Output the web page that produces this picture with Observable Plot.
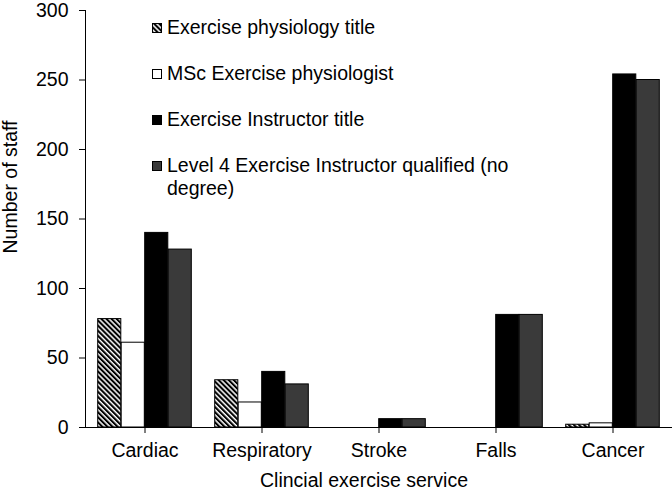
<!DOCTYPE html>
<html>
<head>
<meta charset="utf-8">
<script src="https://cdn.jsdelivr.net/npm/d3@7"></script>
<script src="https://cdn.jsdelivr.net/npm/@observablehq/plot@0.6"></script>
<style>
  html, body { margin: 0; padding: 0; background: #fff; }
  #wrap { position: relative; width: 672px; height: 489px; font-family: "Liberation Sans", Arial, sans-serif; }
  .lg-text { position: absolute; left: 167px; width: 370px; font-size: 19.5px; line-height: 23px; color: #000; }
  .lg-sq { position: absolute; left: 152px; width: 10px; height: 10px; }
</style>
</head>
<body>
<div id="wrap"></div>
<script>
// ---- data ----
const categories = ["Cardiac", "Respiratory", "Stroke", "Falls", "Cancer"];
const seriesNames = [
  "Exercise physiology title",
  "MSc Exercise physiologist",
  "Exercise Instructor title",
  "Level 4 Exercise Instructor qualified (no degree)"
];
const physiologyTitle = [78, 34, 0, 0, 2];
const mscPhysiologist = [61, 18, 0, 0, 3];
const instructorTitle = [140, 40, 6, 81, 254];
const level4Instructor = [128, 31, 6, 81, 250];
const yTicks = [0, 50, 100, 150, 200, 250, 300];
const xTitle = "Clincial exercise service";
const yTitle = "Number of staff";

const seriesValues = [physiologyTitle, mscPhysiologist, instructorTitle, level4Instructor];
const fills = ["url(#hatch)", "#ffffff", "#000000", "#3a3a3a"];

const data = categories.flatMap((c, j) =>
  seriesValues.map((vals, i) => ({category: c, series: i, value: vals[j]}))
);

// ---- layout ----
const W = 672, H = 489;
const mL = 85, mR = 0, mT = 10, mB = 62;
const bandW = (W - mL - mR) / categories.length;
const barW = 23.5;
const off = (bandW - 4 * barW) / 2;

const defs = () => {
  const ns = "http://www.w3.org/2000/svg";
  const d = document.createElementNS(ns, "defs");
  d.innerHTML = `<pattern id="hatch" patternUnits="userSpaceOnUse" width="3.6" height="3.6" patternTransform="rotate(-45)">
      <rect width="3.6" height="3.6" fill="#fff"/>
      <rect width="2.1" height="3.6" fill="#000"/>
    </pattern>`;
  return d;
};

const barMarks = seriesValues.map((_, i) =>
  Plot.barY(data.filter(d => d.series === i && d.value > 0), {
    x: "category",
    y: "value",
    fill: fills[i],
    stroke: "#000",
    strokeWidth: 1,
    insetLeft: off + i * barW,
    insetRight: bandW - off - (i + 1) * barW
  })
);

const chart = Plot.plot({
  width: W,
  height: H,
  marginLeft: mL,
  marginRight: mR,
  marginTop: mT,
  marginBottom: mB,
  style: {fontFamily: "Liberation Sans, Arial, sans-serif", fontSize: "19.5px", color: "#000", background: "transparent"},
  x: {domain: categories, padding: 0, label: null},
  y: {domain: [0, 300], label: null},
  marks: [
    defs,
    ...barMarks,
    Plot.ruleY([0], {stroke: "#000", strokeWidth: 1}),
    Plot.frame({anchor: "left", stroke: "#000", strokeOpacity: 1}),
    Plot.axisY({ticks: yTicks, tickSize: 6, tickPadding: 11, label: null, fontSize: 19.5}),
    Plot.axisX({tickSize: 6, tickPadding: 10, label: null, fontSize: 19.5}),
    Plot.text([xTitle], {frameAnchor: "bottom", dy: 59, dx: -15, fontSize: 19.5, fill: "#000"}),
    Plot.text([yTitle], {frameAnchor: "left", textAnchor: "middle", rotate: -90, dx: -75, dy: -32, fontSize: 19.5, fill: "#000"})
  ]
});

const wrap = document.getElementById("wrap");
wrap.appendChild(chart);

// ---- legend (inside the plot area) ----
const rowTops = [16, 62, 108, 154];
seriesNames.forEach((name, i) => {
  const t = document.createElement("div");
  t.className = "lg-text";
  t.style.top = rowTops[i] + "px";
  t.textContent = name;
  wrap.appendChild(t);

  const ns = "http://www.w3.org/2000/svg";
  const sq = document.createElementNS(ns, "svg");
  sq.setAttribute("class", "lg-sq");
  sq.setAttribute("width", 10);
  sq.setAttribute("height", 10);
  sq.style.top = (rowTops[i] + 7) + "px";
  sq.innerHTML = `<rect x="0.5" y="0.5" width="9" height="9" fill="${fills[i]}" stroke="#000" stroke-width="1"/>`;
  wrap.appendChild(sq);
});
</script>
</body>
</html>
